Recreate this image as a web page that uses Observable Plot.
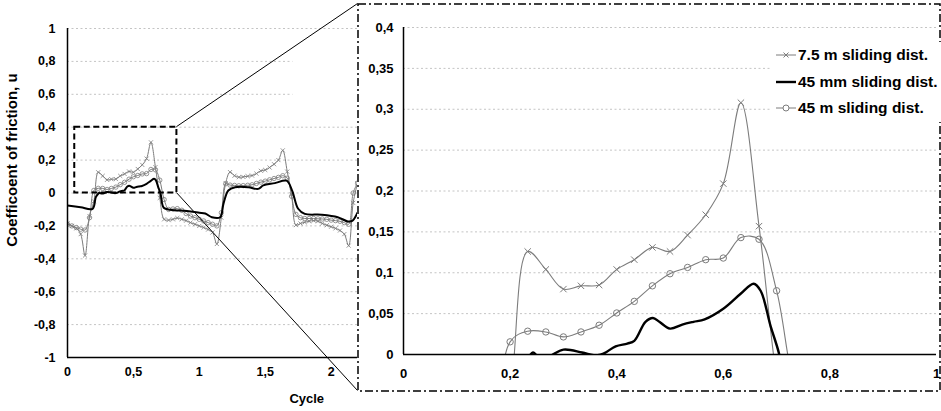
<!DOCTYPE html>
<html><head><meta charset="utf-8">
<script src="https://cdn.jsdelivr.net/npm/d3@7"></script>
<script src="https://cdn.jsdelivr.net/npm/@observablehq/plot@0.6"></script>
<style>
body{margin:0;background:#fff;}
#wrap{position:relative;width:941px;height:411px;overflow:hidden;font-family:"Liberation Sans",Arial,sans-serif;}
#wrap > svg{position:absolute;top:0;}
#legend{position:absolute;left:770px;top:42px;background:#fff;padding:0 4px 0 6px;font-weight:bold;font-size:15.5px;color:#000;}
#legend .row{display:flex;align-items:center;height:26.6px;white-space:nowrap;}
#legend svg{display:block;margin-right:1px;}
</style></head>
<body><div id="wrap"></div>
<script>
// ---- data ----
const cycle = [0,0.033,0.067,0.1,0.133,0.167,0.2,0.233,0.267,0.3,0.333,0.367,0.4,0.433,0.467,0.5,0.533,0.567,0.6,0.633,0.667,0.7,0.733,0.767,0.8,0.833,0.867,0.9,0.933,0.967,1,1.033,1.067,1.1,1.133,1.167,1.2,1.233,1.267,1.3,1.333,1.367,1.4,1.433,1.467,1.5,1.533,1.567,1.6,1.633,1.667,1.7,1.733,1.767,1.8,1.833,1.867,1.9,1.933,1.967,2,2.033,2.067,2.1,2.133,2.167,2.2];
const coef7_5m = [-0.184,-0.20,-0.215,-0.25,-0.38,-0.14,-0.05,0.126,0.104,0.080,0.084,0.085,0.104,0.116,0.131,0.126,0.146,0.171,0.209,0.308,0.157,-0.03,-0.16,-0.165,-0.16,-0.152,-0.16,-0.168,-0.18,-0.19,-0.20,-0.21,-0.222,-0.24,-0.31,-0.15,0.06,0.127,0.105,0.096,0.098,0.102,0.106,0.118,0.135,0.14,0.155,0.175,0.2,0.259,0.13,-0.01,-0.195,-0.185,-0.178,-0.172,-0.168,-0.172,-0.185,-0.196,-0.205,-0.215,-0.228,-0.25,-0.32,-0.06,0.06];
const coef45m = [-0.19,-0.20,-0.21,-0.22,-0.225,-0.15,0.0155,0.0285,0.0276,0.0215,0.0276,0.0358,0.0508,0.065,0.084,0.0988,0.1065,0.116,0.118,0.143,0.141,0.078,-0.04,-0.1,-0.097,-0.095,-0.105,-0.125,-0.14,-0.15,-0.16,-0.17,-0.18,-0.19,-0.2,-0.12,0.056,0.048,0.046,0.044,0.045,0.047,0.05,0.058,0.066,0.072,0.08,0.088,0.095,0.105,0.09,-0.02,-0.13,-0.15,-0.155,-0.155,-0.155,-0.157,-0.158,-0.16,-0.165,-0.168,-0.172,-0.18,-0.19,0.0,0.06];
const cycle45mm = [0,0.1,0.19,0.215,0.235,0.243,0.252,0.27,0.3,0.335,0.36,0.375,0.398,0.42,0.433,0.454,0.468,0.48,0.5,0.523,0.544,0.565,0.6,0.632,0.657,0.67,0.689,0.705,0.73,0.78,0.906,1.0,1.045,1.095,1.158,1.183,1.22,1.271,1.372,1.447,1.485,1.573,1.662,1.704,1.75,1.8,1.926,2.05,2.127,2.16,2.2];
const coef45mm = [-0.076,-0.087,-0.096,-0.025,-0.003,0.0025,-0.002,-0.003,0.006,0.0025,-0.001,0.001,0.010,0.0134,0.0167,0.040,0.0447,0.040,0.0317,0.0366,0.040,0.043,0.056,0.074,0.0866,0.078,0.034,0.0,-0.09,-0.102,-0.11,-0.12,-0.125,-0.147,-0.147,-0.066,0.015,0.035,0.035,0.025,0.046,0.06,0.075,0.015,-0.096,-0.127,-0.132,-0.147,-0.173,-0.17,-0.12];
const seriesNames = ["7.5 m sliding dist.", "45 mm sliding dist.", "45 m sliding dist."];
const leftXTicks = [0, 0.5, 1, 1.5, 2];
const leftYTicks = [-1, -0.8, -0.6, -0.4, -0.2, 0, 0.2, 0.4, 0.6, 0.8, 1];
const leftShortGrid = [0.6, 0.8];
const rightXTicks = [0, 0.2, 0.4, 0.6, 0.8, 1];
const rightYTicks = [0, 0.05, 0.1, 0.15, 0.2, 0.25, 0.3, 0.35, 0.4];
const zoomBox = {x1: 0.055, x2: 0.83, y1: 0, y2: 0.4};
const yTitle = "Coefficoent of friction, u";
const xTitle = "Cycle";

// ---- tables ----
const s7 = cycle.map((c, i) => ({cycle: c, coef: coef7_5m[i]}));
const s45 = cycle.map((c, i) => ({cycle: c, coef: coef45m[i]}));
const smm = cycle45mm.map((c, i) => ({cycle: c, coef: coef45mm[i]}));

const font = '"Liberation Sans", Arial, sans-serif';
const fmt = d => String(d).replace(".", ",");
const gray = "#7c7c7c";
const grid = {stroke: "#c4c4c4", strokeWidth: 1, strokeDasharray: "2,2.5"};
const wrap = document.getElementById("wrap");

// ---- left: full cycles ----
const left = Plot.plot({
  width: 360, height: 411,
  marginLeft: 67, marginRight: 3, marginTop: 28, marginBottom: 54,
  style: {fontFamily: font, fontSize: "12.5px", fontWeight: "bold", color: "#000", background: "transparent", overflow: "visible"},
  x: {domain: [0, 2.2]},
  y: {domain: [-1, 1]},
  marks: [
    Plot.ruleY(leftYTicks.filter(d => !leftShortGrid.includes(d)), grid),
    Plot.ruleY(leftShortGrid, {...grid, x1: 0, x2: 1.71}),
    Plot.line(s7, {x: "cycle", y: "coef", stroke: gray, strokeWidth: 1, curve: "catmull-rom", clip: true}),
    Plot.dot(s7, {x: "cycle", y: "coef", symbol: "times", r: 2, stroke: gray, strokeWidth: 0.8, clip: true}),
    Plot.line(s45, {x: "cycle", y: "coef", stroke: gray, strokeWidth: 1, curve: "catmull-rom", clip: true}),
    Plot.dot(s45, {x: "cycle", y: "coef", symbol: "circle", r: 2.2, stroke: gray, strokeWidth: 0.8, fill: "none", clip: true}),
    Plot.line(smm, {x: "cycle", y: "coef", stroke: "#000", strokeWidth: 2, curve: "catmull-rom", clip: true}),
    Plot.rect([zoomBox], {x1: "x1", x2: "x2", y1: "y1", y2: "y2", fill: "none", stroke: "#000", strokeWidth: 2, strokeDasharray: "6,3.5"}),
    Plot.ruleX([0], {stroke: "#000", strokeWidth: 1.5}),
    Plot.ruleY([-1], {stroke: "#000", strokeWidth: 1.5}),
    Plot.axisX({ticks: leftXTicks, tickSize: 0, tickPadding: 10, tickFormat: fmt, label: null}),
    Plot.axisY({ticks: leftYTicks, tickSize: 0, tickPadding: 12, tickFormat: fmt, label: null}),
    Plot.text([yTitle], {frameAnchor: "left", textAnchor: "middle", y: 0.2, dx: -55, rotate: -90, fontSize: 15, fontWeight: "bold", fill: "#000"}),
    Plot.text([xTitle], {frameAnchor: "bottom", x: 1.815, dy: 45, fontSize: 13, fontWeight: "bold", fill: "#000"})
  ]
});
left.style.left = "0px";
wrap.appendChild(left);

// ---- right: zoom on first half cycle ----
const rightOffset = 357;
const right = Plot.plot({
  width: 584, height: 411,
  marginLeft: 46, marginRight: 5, marginTop: 27, marginBottom: 57,
  style: {fontFamily: font, fontSize: "13px", fontWeight: "bold", color: "#000", background: "transparent", overflow: "visible"},
  x: {domain: [0, 1]},
  y: {domain: [0, 0.4]},
  marks: [
    Plot.ruleY(rightYTicks.filter(d => d > 0), grid),
    Plot.line(s7, {x: "cycle", y: "coef", stroke: gray, strokeWidth: 1.1, curve: "catmull-rom", clip: true}),
    Plot.dot(s7, {x: "cycle", y: "coef", symbol: "times", r: 3, stroke: gray, strokeWidth: 1, clip: true}),
    Plot.line(s45, {x: "cycle", y: "coef", stroke: gray, strokeWidth: 1.1, curve: "catmull-rom", clip: true}),
    Plot.dot(s45, {x: "cycle", y: "coef", symbol: "circle", r: 3.2, stroke: gray, strokeWidth: 1, fill: "none", clip: true}),
    Plot.line(smm, {x: "cycle", y: "coef", stroke: "#000", strokeWidth: 2.4, curve: "catmull-rom", clip: true}),
    Plot.ruleX([0], {stroke: "#000", strokeWidth: 1.5}),
    Plot.ruleY([0], {stroke: "#000", strokeWidth: 1.5}),
    Plot.axisX({ticks: rightXTicks, tickSize: 0, tickPadding: 14, tickFormat: fmt, label: null}),
    Plot.axisY({ticks: rightYTicks, tickSize: 0, tickPadding: 10, tickFormat: fmt, label: null}),
    Plot.frame({stroke: "#000", strokeWidth: 1.5, strokeDasharray: "8,3,2,3", insetLeft: -45.5, insetTop: -23.5, insetRight: -3.5, insetBottom: -36.5})
  ]
});
right.style.left = rightOffset + "px";
wrap.appendChild(right);

// ---- connector lines from the zoom box to the zoomed panel ----
const lx = left.scale("x"), ly = left.scale("y");
const rx = right.scale("x"), ry = right.scale("y");
const panelLeft = rightOffset + rx.apply(0) - 45.5;
const panelTop = ry.apply(0.4) - 23.5;
const panelBottom = ry.apply(0) + 36.5;
const ov = d3.create("svg").attr("width", 941).attr("height", 411).style("pointer-events", "none");
ov.append("line").attr("x1", lx.apply(zoomBox.x2)).attr("y1", ly.apply(zoomBox.y2))
  .attr("x2", panelLeft).attr("y2", panelTop).attr("stroke", "#000").attr("stroke-width", 1);
ov.append("line").attr("x1", lx.apply(zoomBox.x2)).attr("y1", ly.apply(zoomBox.y1))
  .attr("x2", panelLeft).attr("y2", panelBottom).attr("stroke", "#000").attr("stroke-width", 1);
wrap.appendChild(ov.node());

// ---- legend ----
const legend = document.createElement("div");
legend.id = "legend";
const samples = [
  `<line x1="0" y1="6" x2="20" y2="6" stroke="${gray}" stroke-width="1"/><path d="M7.5,3.5L12.5,8.5M12.5,3.5L7.5,8.5" stroke="${gray}" stroke-width="1"/>`,
  `<line x1="0" y1="6" x2="20" y2="6" stroke="#000" stroke-width="2.4"/>`,
  `<line x1="0" y1="6" x2="20" y2="6" stroke="${gray}" stroke-width="1"/><circle cx="10" cy="6" r="3" fill="#fff" stroke="${gray}" stroke-width="1"/>`
];
seriesNames.forEach((name, i) => {
  const row = document.createElement("div");
  row.className = "row";
  row.innerHTML = `<svg width="21" height="12">${samples[i]}</svg><span>${name}</span>`;
  legend.appendChild(row);
});
wrap.appendChild(legend);
</script></body></html>
